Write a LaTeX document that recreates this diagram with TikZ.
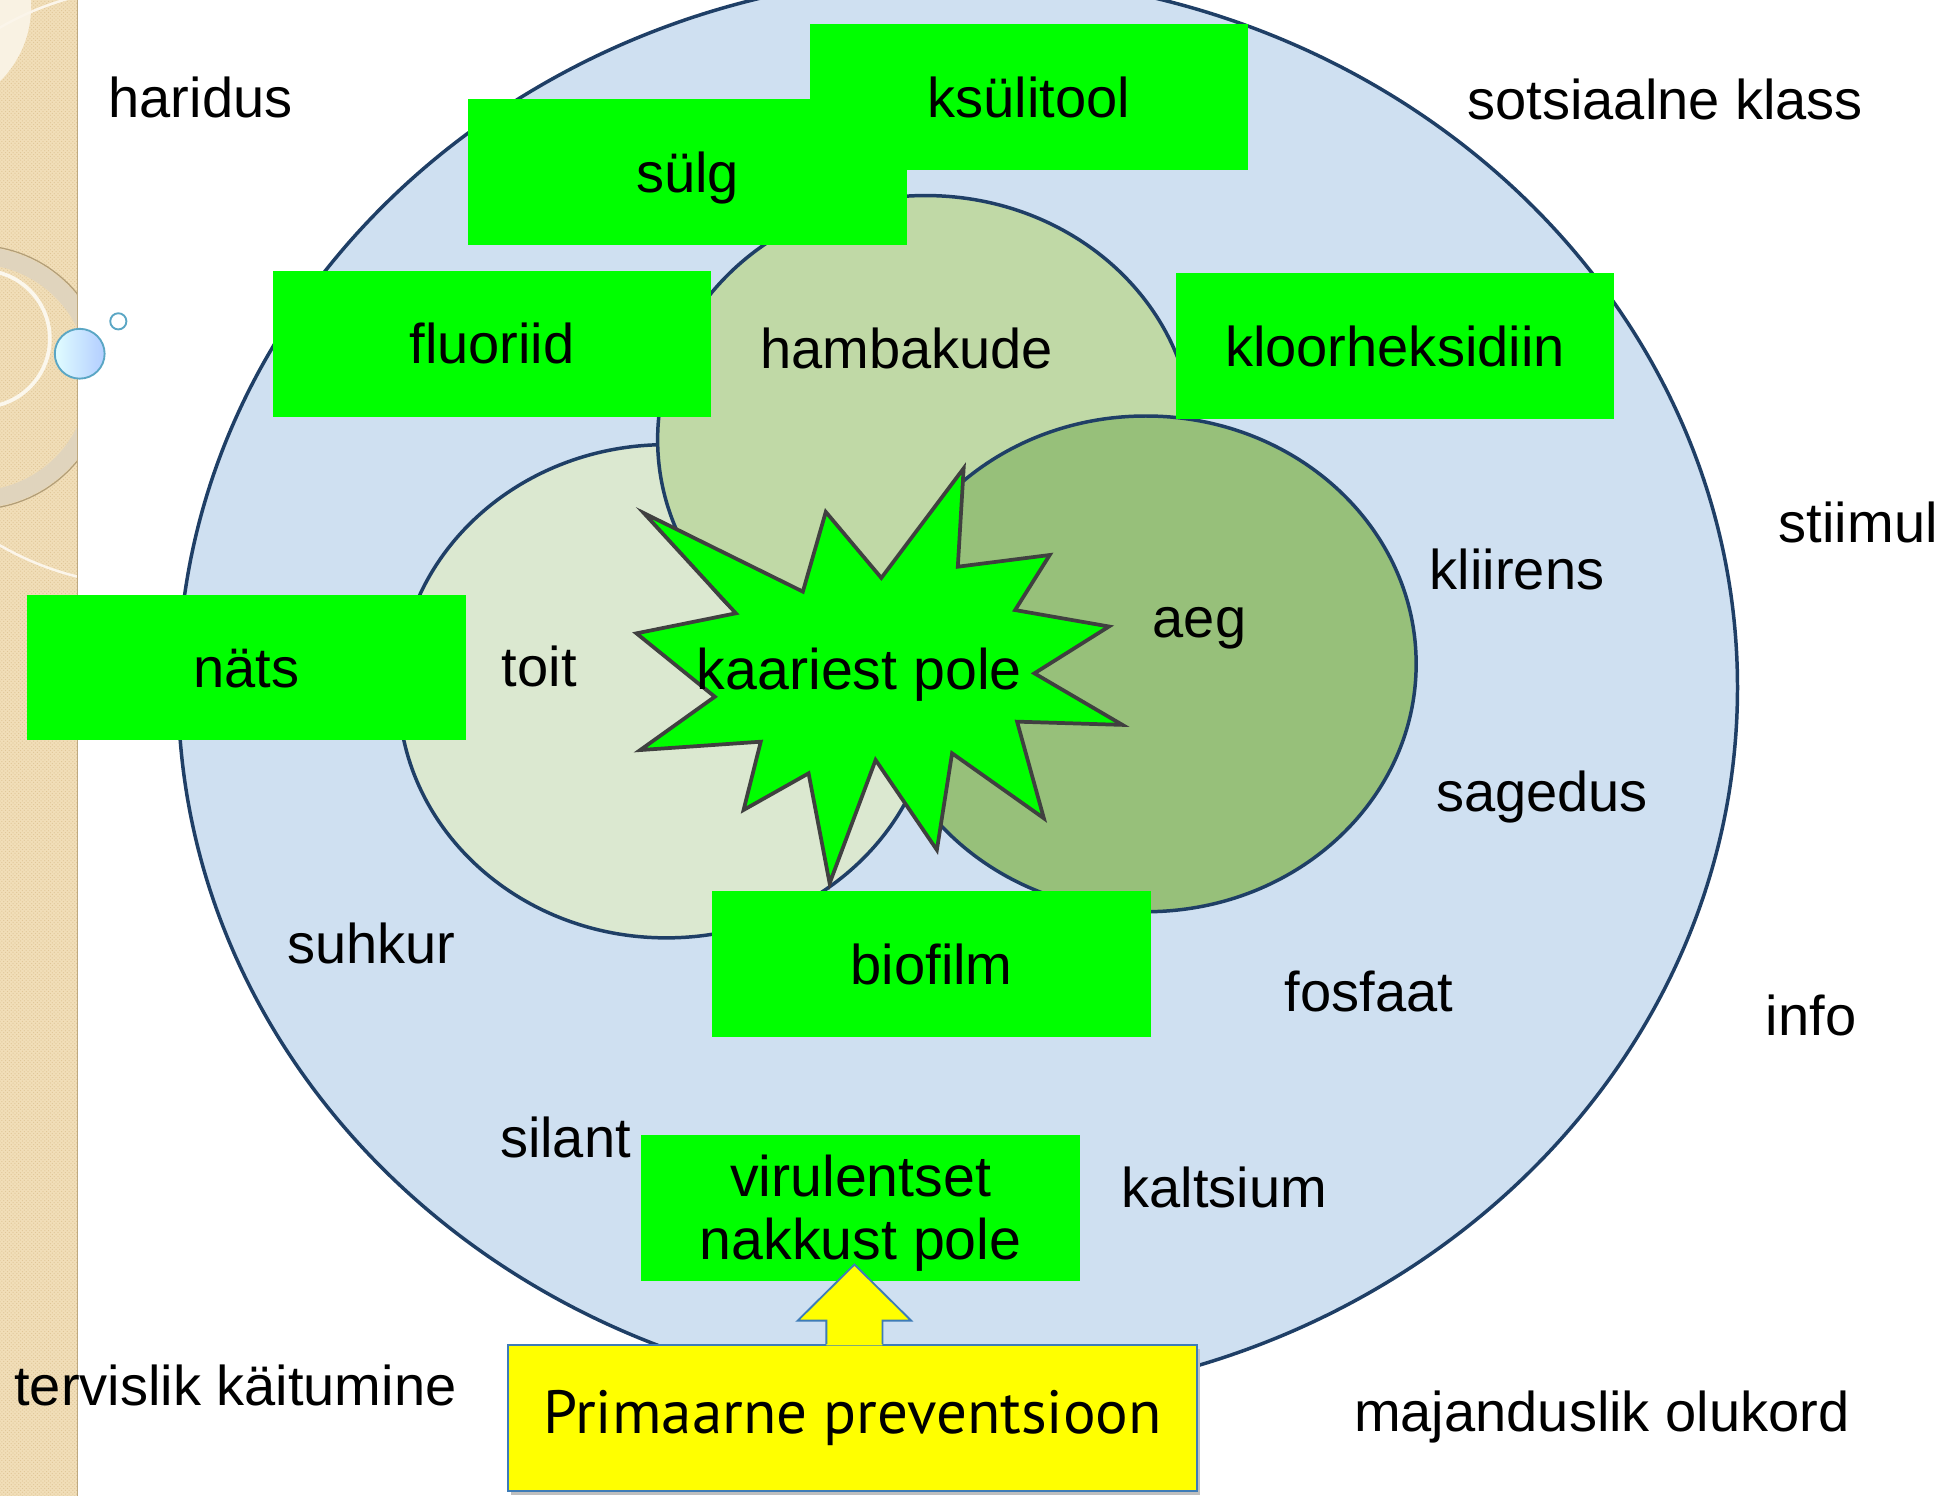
\documentclass[tikz,border=0pt]{standalone}
\usepackage{fontspec}
\setmainfont{Liberation Sans}
\newfontfamily\gillfont{PT Sans}
\usetikzlibrary{patterns,calc}
\definecolor{outerfill}{HTML}{CFE0F1}
\definecolor{navy}{HTML}{1F3F66}
\definecolor{toitfill}{HTML}{DBE8D0}
\definecolor{hambfill}{HTML}{C0D9A6}
\definecolor{aegfill}{HTML}{97C07A}
\definecolor{brightgreen}{HTML}{00FF00}
\definecolor{starline}{HTML}{404040}
\definecolor{yellowfill}{HTML}{FFFF00}
\definecolor{yellowline}{HTML}{3E7CB8}
\definecolor{stripfill}{HTML}{F1DEB8}
\definecolor{stripdot}{HTML}{DFC596}
\definecolor{bubbleline}{HTML}{5AA6C4}
\begin{document}
\begin{tikzpicture}[x=1pt,y=-1pt,
  lbl/.style={font=\fontsize{45}{54}\selectfont, inner sep=0pt, text height=32.4pt, text depth=0pt},
  gbox/.style={fill=brightgreen, minimum width=352pt, minimum height=117pt, inner sep=0pt,
    font=\fontsize{45}{54}\selectfont, text height=32.4pt, text depth=0pt},
  ring/.style={draw=navy, line width=2.8pt},
  ybox/.style={fill=yellowfill, draw=yellowline, line width=1.5pt, minimum width=553pt,
    minimum height=117pt, inner sep=0pt, font=\gillfont\fontsize{49}{58}\selectfont}]
\useasboundingbox (0,0) rectangle (1560,1201.07);
% left decorative strip
\fill[stripfill] (0,0) rectangle (62,1201.07);
\fill[pattern=crosshatch dots, pattern color=stripdot] (0,0) rectangle (62,1201.07);
\begin{scope}
  \clip (0,0) rectangle (62,1201.07);
  \fill[white!60!stripfill] (-60,5) circle [radius=85pt];
  \draw[white!70!stripfill, line width=2pt] (120,230) circle [radius=240pt];
  \draw[white!55!gray!40!stripfill, line width=14pt] (-20,303) circle [radius=98pt];
  \draw[stripdot!80!black, line width=1pt] (-20,303) circle [radius=106pt];
  \draw[white!75!stripfill, line width=3pt] (-15,272) circle [radius=55pt];
\end{scope}
\draw[stripdot!85!black, line width=1pt] (62,0) -- (62,1201.07);
% bubbles
\draw[bubbleline, line width=1.5pt, left color=blue!8!cyan!12, right color=cyan!35!blue!30] (64,284) circle [radius=20pt];
\draw[bubbleline, line width=1.5pt, fill=white] (95,258) circle [radius=6.5pt];
% circles
\draw[ring, fill=outerfill] (769,552) ellipse [x radius=626pt, y radius=572pt];
\draw[ring, fill=toitfill] (535,555) ellipse [x radius=215pt, y radius=198pt];
\draw[ring, fill=hambfill] (743,353) ellipse [x radius=215pt, y radius=196pt];
\draw[ring, fill=aegfill] (920,533) ellipse [x radius=217pt, y radius=199pt];
% star
\draw[fill=brightgreen, draw=starline, line width=3pt, line join=miter]
  (517,412) -- (644.6,475) -- (663,411) -- (707.6,464) -- (773.7,376) -- (769,455)
  -- (842.8,445.6) -- (815,489.8) -- (890.4,503) -- (830.5,540.6) -- (901.2,582)
  -- (816.6,579.4) -- (838.1,657) -- (764.4,604.8) -- (752.2,682.4) -- (703,610.2)
  -- (666.1,709.2) -- (649.2,620.9) -- (597,650.3) -- (610.8,595.5) -- (514,602.2)
  -- (573.9,559.4) -- (511,508.5) -- (590.8,492.4) -- cycle;
\node[lbl, font=\fontsize{46}{54}\selectfont] (kaariest) at (690,537) {kaariest pole};
% green boxes
\node[gbox] (ksul) at (826,78) {ksülitool};
\node[gbox] (sulg) at (552,138) {sülg};
\node[gbox] (fluor) at (395,276) {fluoriid};
\node[gbox] (kloor) at (1120,278) {kloorheksidiin};
\node[gbox] (nats) at (198,536) {näts};
\node[gbox] (biofilm) at (748,774) {biofilm};
\node[gbox] (viru) at (691,970) {};
\node[font=\fontsize{46}{50}\selectfont, align=center, inner sep=0pt] (virutext) at (691,974) {virulentset\\nakkust pole};
% labels
\node[lbl] (haridus) at (161,78) {haridus};
\node[lbl] (sots) at (1337,80) {sotsiaalne klass};
\node[lbl] (stiimul) at (1492,419) {stiimul};
\node[lbl] (kliirens) at (1218,457) {kliirens};
\node[lbl] (aeg) at (963,496) {aeg};
\node[lbl] (toit) at (433,535) {toit};
\node[lbl] (hambakude) at (728,280) {hambakude};
\node[lbl] (sagedus) at (1238,635) {sagedus};
\node[lbl] (suhkur) at (298,757) {suhkur};
\node[lbl] (fosfaat) at (1099,796) {fosfaat};
\node[lbl] (info) at (1454,815) {info};
\node[lbl] (silant) at (454,913) {silant};
\node[lbl] (kaltsium) at (983,953) {kaltsium};
\node[lbl] (tervislik) at (189,1112) {tervislik käitumine};
\node[lbl] (majandus) at (1286,1133) {majanduslik olukord};
% yellow box and arrow
\fill[black!25] (410.5,1083) rectangle (963.5,1200);
\node[ybox] (prim) at (684.5,1138.5) {Primaarne preventsioon};
\fill[yellowfill] ($(prim.north)+(-21,1)$) -- ($(prim.north)+(-21,-19)$) -- ($(prim.north)+(-44,-19)$)
  -- ($(prim.north)+(1.5,-64)$) -- ($(prim.north)+(47,-19)$) -- ($(prim.north)+(24,-19)$)
  -- ($(prim.north)+(24,1)$) -- cycle;
\draw[yellowline, line width=1.5pt, line join=miter] ($(prim.north)+(-21,0)$) -- ($(prim.north)+(-21,-19)$)
  -- ($(prim.north)+(-44,-19)$) -- ($(prim.north)+(1.5,-64)$) -- ($(prim.north)+(47,-19)$)
  -- ($(prim.north)+(24,-19)$) -- ($(prim.north)+(24,0)$);
\end{tikzpicture}
\end{document}
